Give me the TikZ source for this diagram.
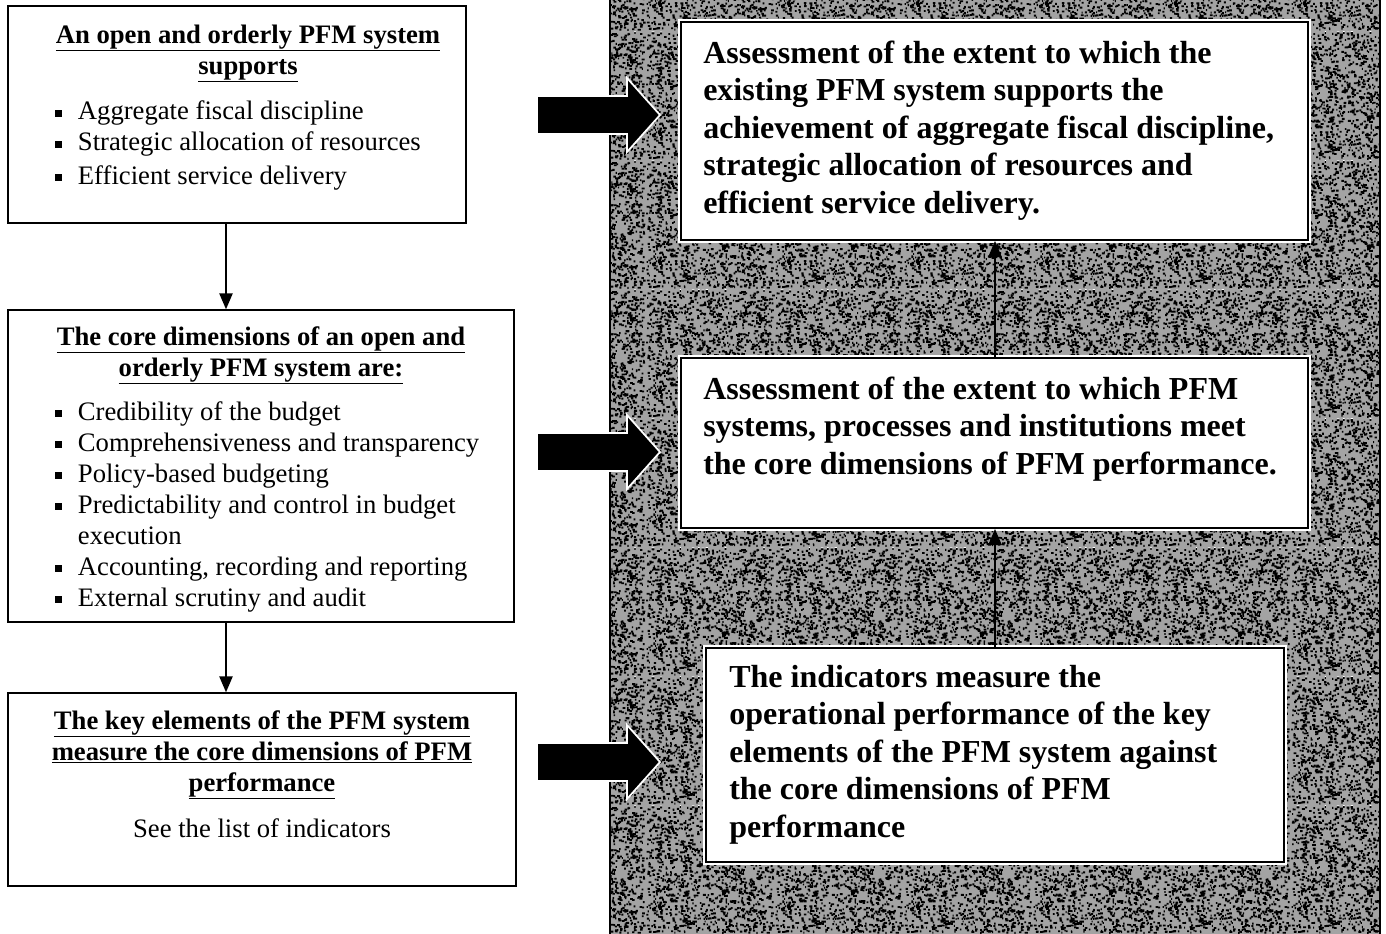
\documentclass[tikz,border=0pt]{standalone}
\usepackage{fontspec}
\setmainfont{Liberation Serif}
\usetikzlibrary{fit,arrows.meta,patterns}
\newcommand\lsize{\fontsize{20}{23.25}\selectfont}
\newcommand\rsize{\fontsize{24}{28.1}\selectfont\bfseries}
\newcommand\bsq{\makebox[17pt][l]{\rule[2pt]{5.2pt}{5.2pt}}}
\pgfdeclarepatternformonly{speckle}{\pgfpointorigin}{\pgfqpoint{97pt}{97pt}}{\pgfqpoint{97pt}{97pt}}{%
  \pgfmathsetseed{11}%
  \foreach \i in {1,...,1500}{%
    \pgfmathrandominteger{\xx}{0}{950}%
    \pgfmathrandominteger{\yy}{0}{950}%
    \pgfmathrandominteger{\ww}{8}{22}%
    \pgfpathrectangle{\pgfpoint{0.1pt*\xx}{0.1pt*\yy}}{\pgfpoint{0.1pt*\ww}{1.4pt}}%
  }%
  \pgfusepath{fill}%
}
\begin{document}
\begin{tikzpicture}[x=0.75pt,y=-0.75pt,
  lbox/.style={draw=black, line width=1.1pt, fill=white, inner sep=0pt},
  rbox/.style={draw=black, line width=1.5pt, fill=white, inner sep=0pt,
    preaction={draw=white, line width=5pt}},
  panel/.style={fill=black!36, draw=black, line width=1pt},
  conn/.style={line width=1.1pt, -{Triangle[length=12pt,width=10pt]}},
  blockarrow/.style={fill=black, draw=white, line width=1.3pt},
  ltext/.style={font=\lsize, align=left, inner sep=0pt, anchor=base west},
  lhead/.style={font=\lsize\bfseries, align=center, inner sep=0pt, anchor=base},
  rtext/.style={font=\rsize, align=left, inner sep=0pt, anchor=base west}]
\useasboundingbox (0,0) rectangle (1386,933);
\fill[white] (0,0) rectangle (1386,933);

% right textured panel
\draw[panel] (610,-2) rectangle (1380,935);
\fill[pattern=speckle, pattern color=black] (611,-2) rectangle (1379,935);

% left boxes
\node[lbox, fit={(8,6) (466,223)}] (b1) {};
\node[lbox, fit={(8,310) (514,622)}] (b2) {};
\node[lbox, fit={(8,693) (516,886)}] (b3) {};

% (anchors are at the baseline of the last line)
\node[lhead] (h1) at (248,74) {\underline{An open and orderly PFM system}\\\underline{supports}};
\node[ltext] (l1) at (55,184) {\bsq Aggregate fiscal discipline\\
  \bsq Strategic allocation of resources\\[2pt]
  \bsq Efficient service delivery};

\node[lhead] (h2) at (261,376) {\underline{The core dimensions of an open and}\\\underline{orderly PFM system are:}};
\node[ltext] (l2) at (55,606) {\bsq Credibility of the budget\\
  \bsq Comprehensiveness and transparency\\
  \bsq Policy-based budgeting\\
  \bsq Predictability and control in budget\\
  \hspace*{17pt}execution\\
  \bsq Accounting, recording and reporting\\
  \bsq External scrutiny and audit};

\node[lhead] (h3) at (262,791) {\underline{The key elements of the PFM system}\\\underline{measure the core dimensions of PFM}\\\underline{performance}};
\node[font=\lsize, inner sep=0pt, anchor=base] (l3) at (262,837) {See the list of indicators};

% left connectors
\coordinate (lx) at (226,0);
\draw[conn] (b1.south -| lx) -- (b2.north -| lx);
\draw[conn] (b2.south -| lx) -- (b3.north -| lx);

% right boxes
\node[rbox, fit={(681,22) (1308,240)}] (ra) {};
\node[rbox, fit={(681,358) (1308,528)}] (rb) {};
\node[rbox, fit={(706,648) (1284,862)}] (rc) {};

\node[rtext] (ta) at (703,213) {Assessment of the extent to which the\\
  existing PFM system supports the\\
  achievement of aggregate fiscal discipline,\\
  strategic allocation of resources and\\
  efficient service delivery.};
\node[rtext] (tb) at (703,474) {Assessment of the extent to which PFM\\
  systems, processes and institutions meet\\
  the core dimensions of PFM performance.};
\node[rtext] (tc) at (729,837) {The indicators measure the\\
  operational performance of the key\\
  elements of the PFM system against\\
  the core dimensions of PFM\\
  performance};

% right connectors
\coordinate (rx) at (995,0);
\draw[conn] (rb.north -| rx) -- (ra.south -| rx);
\draw[conn] (rc.north -| rx) -- (rb.south -| rx);

% block arrows
\foreach \cy in {115,452,762}
  \draw[blockarrow] (537,\cy-19) -- (627,\cy-19) -- (627,\cy-37) -- (660,\cy)
    -- (627,\cy+37) -- (627,\cy+19) -- (537,\cy+19) -- cycle;
\end{tikzpicture}
\end{document}
